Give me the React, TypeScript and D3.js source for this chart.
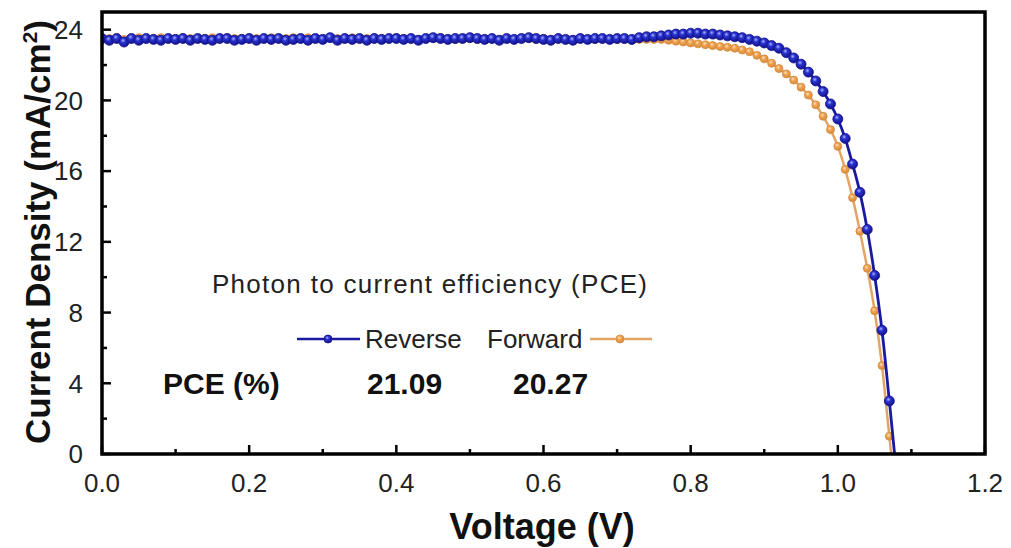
import React from "react";
import * as d3 from "d3";

const voltages: number[] = d3.range(0, 109).map((i) => +(i * 0.01).toFixed(2));

const reverseJ: number[] = [
  23.5, 23.4, 23.5, 23.3, 23.5, 23.4, 23.5, 23.45, 23.4, 23.5,
  23.45, 23.5, 23.4, 23.5, 23.45, 23.4, 23.5, 23.5, 23.4, 23.45,
  23.5, 23.4, 23.5, 23.45, 23.5, 23.4, 23.45, 23.5, 23.4, 23.5,
  23.45, 23.55, 23.4, 23.5, 23.45, 23.5, 23.4, 23.5, 23.45, 23.5,
  23.5, 23.45, 23.5, 23.4, 23.5, 23.55, 23.5, 23.45, 23.5, 23.5,
  23.55, 23.5, 23.45, 23.5, 23.4, 23.5, 23.45, 23.5, 23.55, 23.5,
  23.45, 23.4, 23.5, 23.45, 23.4, 23.5, 23.45, 23.5, 23.5, 23.45,
  23.5, 23.5, 23.45, 23.55, 23.6, 23.6,
  23.65, 23.7, 23.75, 23.75, 23.8, 23.8, 23.75, 23.75, 23.7, 23.65,
  23.6, 23.55, 23.45, 23.35, 23.25, 23.1, 22.95, 22.7, 22.4, 22.05,
  21.6, 21.1, 20.5, 19.8, 18.95, 17.85, 16.4, 14.8, 12.7, 10.1,
  7.0, 3.0, -1.2,
];

const forwardJ: number[] = [
  23.55, 23.5, 23.55, 23.45, 23.5, 23.55, 23.5, 23.5, 23.55, 23.5,
  23.5, 23.55, 23.5, 23.5, 23.5, 23.55, 23.5, 23.55, 23.5, 23.5,
  23.55, 23.5, 23.5, 23.55, 23.5, 23.5, 23.55, 23.5, 23.55, 23.5,
  23.5, 23.55, 23.5, 23.5, 23.55, 23.5, 23.5, 23.55, 23.5, 23.5,
  23.55, 23.5, 23.5, 23.45, 23.5, 23.5, 23.55, 23.5, 23.45, 23.5,
  23.5, 23.45, 23.5, 23.5, 23.45, 23.5, 23.45, 23.5, 23.5, 23.45,
  23.5, 23.45, 23.5, 23.45, 23.45, 23.5, 23.45, 23.45, 23.5, 23.45,
  23.45, 23.45, 23.4, 23.45, 23.45, 23.45,
  23.45, 23.4, 23.35, 23.3, 23.25, 23.2, 23.15, 23.1, 23.05, 23.0,
  22.95, 22.85, 22.75, 22.55, 22.35, 22.1, 21.8, 21.5, 21.15, 20.75,
  20.3, 19.75, 19.1, 18.35, 17.4, 16.1, 14.5, 12.6, 10.5, 8.1,
  5.0, 1.0, -3.0,
];

const xTicks: number[] = [0, 0.2, 0.4, 0.6, 0.8, 1.0, 1.2];
const xMinor: number[] = [0.1, 0.3, 0.5, 0.7, 0.9, 1.1];
const yTicks: number[] = [0, 4, 8, 12, 16, 20, 24];
const yMinor: number[] = [2, 6, 10, 14, 18, 22];

const seriesNames = ["Reverse", "Forward"];
const pceValues = ["21.09", "20.27"];

const W = 1011;
const H = 548;
const L = 102;
const R = 985;
const T = 12;
const B = 454;

const FONT = "'Liberation Sans', Arial, Helvetica, sans-serif";
const BLUE_LINE = "#1a1aa0";
const BLUE_FILL = "#2a33d0";
const BLUE_STROKE = "#10108a";
const OR_LINE = "#e3a566";
const OR_FILL = "#eda352";
const OR_STROKE = "#d98a3a";

export default function App() {
  const x = d3.scaleLinear().domain([0, 1.2]).range([L, R]);
  const y = d3.scaleLinear().domain([0, 25]).range([B, T]);

  const revPts = voltages.map((v, i) => [v, reverseJ[i]] as [number, number]);
  const fwdPts = voltages.map((v, i) => [v, forwardJ[i]] as [number, number]);
  const line = d3
    .line<[number, number]>()
    .x((d) => x(d[0]))
    .y((d) => y(d[1]))
    .curve(d3.curveMonotoneX);

  return (
    <svg
      width={W}
      height={H}
      style={{ position: "absolute", left: 0, top: 0, background: "#fff" }}
    >
      <defs>
        <clipPath id="plot">
          <rect x={L} y={T} width={R - L} height={B - T} />
        </clipPath>
        <radialGradient id="gBlue" cx="0.4" cy="0.35" r="0.65">
          <stop offset="0" stopColor="#aab4ff" />
          <stop offset="0.35" stopColor={BLUE_FILL} />
          <stop offset="1" stopColor="#12128a" />
        </radialGradient>
        <radialGradient id="gOr" cx="0.4" cy="0.35" r="0.65">
          <stop offset="0" stopColor="#ffe0b8" />
          <stop offset="0.4" stopColor={OR_FILL} />
          <stop offset="1" stopColor="#d88a3c" />
        </radialGradient>
      </defs>

      <g clipPath="url(#plot)">
        <path d={line(fwdPts) || ""} fill="none" stroke={OR_LINE} strokeWidth={2.5} />
        {fwdPts
          .filter((d) => d[1] >= 0)
          .map((d, i) => (
            <circle
              key={"f" + i}
              cx={x(d[0])}
              cy={y(d[1])}
              r={4}
              fill="url(#gOr)"
              stroke={OR_STROKE}
              strokeWidth={0.8}
            />
          ))}
        <path d={line(revPts) || ""} fill="none" stroke={BLUE_LINE} strokeWidth={2.8} />
        {revPts
          .filter((d) => d[1] >= 0)
          .map((d, i) => (
            <circle
              key={"r" + i}
              cx={x(d[0])}
              cy={y(d[1])}
              r={5}
              fill="url(#gBlue)"
              stroke={BLUE_STROKE}
              strokeWidth={0.8}
            />
          ))}
      </g>

      {xTicks.map((t) => (
        <line key={"xt" + t} x1={x(t)} x2={x(t)} y1={B} y2={B - 9} stroke="#000" strokeWidth={2.5} />
      ))}
      {xMinor.map((t) => (
        <line key={"xm" + t} x1={x(t)} x2={x(t)} y1={B} y2={B - 5} stroke="#000" strokeWidth={2.5} />
      ))}
      {yTicks.map((t) => (
        <line key={"yt" + t} x1={L} x2={L + 9} y1={y(t)} y2={y(t)} stroke="#000" strokeWidth={2.5} />
      ))}
      {yMinor.map((t) => (
        <line key={"ym" + t} x1={L} x2={L + 5} y1={y(t)} y2={y(t)} stroke="#000" strokeWidth={2.5} />
      ))}

      <rect x={L} y={T} width={R - L} height={B - T} fill="none" stroke="#000" strokeWidth={3.5} />

      {xTicks.map((t) => (
        <text
          key={"xl" + t}
          x={x(t)}
          y={492}
          textAnchor="middle"
          fontFamily={FONT}
          fontSize={26}
          fill="#222"
        >
          {d3.format(".1f")(t)}
        </text>
      ))}
      {yTicks.map((t) => (
        <text
          key={"yl" + t}
          x={83}
          y={y(t)}
          dy="0.36em"
          textAnchor="end"
          fontFamily={FONT}
          fontSize={26}
          fill="#222"
        >
          {t}
        </text>
      ))}

      <text
        x={542}
        y={539}
        textAnchor="middle"
        fontFamily={FONT}
        fontSize={36}
        fontWeight="bold"
        fill="#111"
      >
        Voltage (V)
      </text>
      <text
        transform={`translate(50,232) rotate(-90)`}
        textAnchor="middle"
        fontFamily={FONT}
        fontSize={35}
        fontWeight="bold"
        fill="#111"
      >
        Current Density (mA/cm
        <tspan dy={-13} fontSize={21}>2</tspan>
        <tspan dy={13}>)</tspan>
      </text>

      <text x={212} y={293} fontFamily={FONT} fontSize={26} fill="#222" textLength={435} lengthAdjust="spacing">
        Photon to current efficiency (PCE)
      </text>

      <line x1={297} x2={360} y1={339} y2={339} stroke={BLUE_LINE} strokeWidth={2.5} />
      <circle cx={328} cy={339} r={4} fill="url(#gBlue)" stroke={BLUE_STROKE} strokeWidth={0.8} />
      <text x={365} y={348} fontFamily={FONT} fontSize={26} fill="#222">
        {seriesNames[0]}
      </text>
      <text x={487} y={348} fontFamily={FONT} fontSize={26} fill="#222">
        {seriesNames[1]}
      </text>
      <line x1={590} x2={652} y1={339} y2={339} stroke={OR_LINE} strokeWidth={2.5} />
      <circle cx={620} cy={339} r={4} fill="url(#gOr)" stroke={OR_STROKE} strokeWidth={0.8} />

      <text x={163} y={394} fontFamily={FONT} fontSize={30} fontWeight="bold" fill="#111">
        PCE (%)
      </text>
      <text x={367} y={394} fontFamily={FONT} fontSize={30} fontWeight="bold" fill="#111">
        {pceValues[0]}
      </text>
      <text x={513} y={394} fontFamily={FONT} fontSize={30} fontWeight="bold" fill="#111">
        {pceValues[1]}
      </text>
    </svg>
  );
}
